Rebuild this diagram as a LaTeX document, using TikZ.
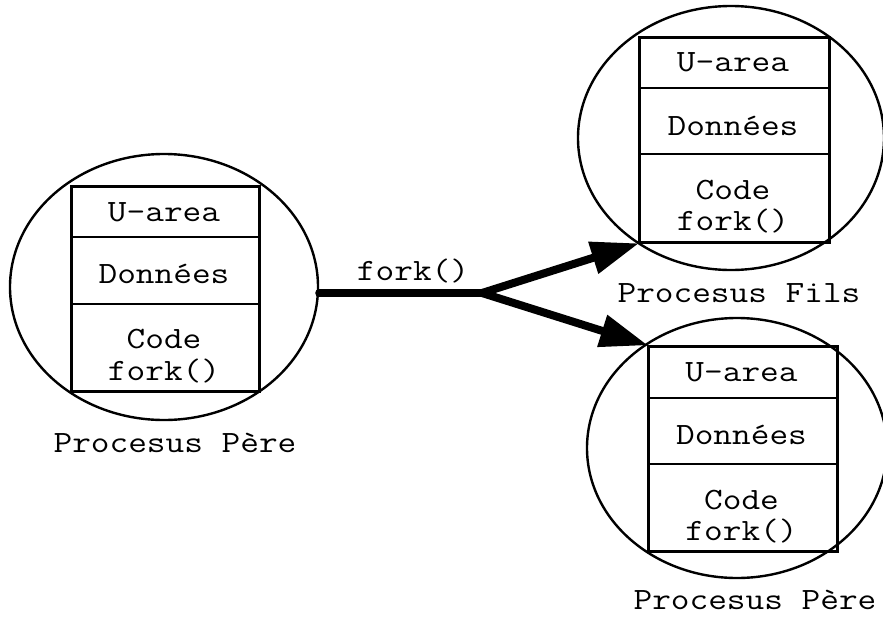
\documentclass[tikz,border=0pt]{standalone}
\usepackage{fontspec}
\usetikzlibrary{shapes.geometric,arrows.meta}

% typewriter text, set slightly wide
\newcommand\wide[1]{\scalebox{1.17}[1]{#1}}

\begin{document}
\begin{tikzpicture}[x=1pt,y=-1pt,
  proc/.style={draw,ellipse,line width=2.4pt,inner sep=0pt},
  mem/.style={draw,line width=2.6pt,inner sep=0pt,anchor=north west},
  sep/.style={line width=2.6pt},
  lbl/.style={font=\fontsize{31}{36}\selectfont\ttfamily,
    inner sep=0pt,anchor=base},
  thick link/.style={line width=8pt,line cap=round},
  forkarrow/.style={line width=8pt,line cap=round,
    -{Triangle[length=47pt,width=34pt,line width=0pt]}}]

\useasboundingbox (0,0) rectangle (883,616);

% parent process
\node[proc,minimum width=308pt,minimum height=266pt] (pere) at (164,287) {};
\node[mem,minimum width=188pt,minimum height=205pt] (pereBox) at (70,185) {};
\draw[sep] (70,237) -- (258,237);
\draw[sep] (70,304) -- (258,304);
\node[lbl] (pereU) at (164,221) {\wide{U-area}};
\node[lbl] (pereD) at (164,283) {\wide{Données}};
\node[lbl] (pereC) at (164,348) {\wide{Code}};
\node[lbl] (pereF) at (164,380) {\wide{fork()}};
\node[lbl] (pereName) at (175,452) {\wide{Procesus Père}};

% child process
\node[proc,minimum width=306pt,minimum height=264pt] (fils) at (731,138) {};
\node[mem,minimum width=190pt,minimum height=205pt] (filsBox) at (638,36) {};
\draw[sep] (638,88) -- (828,88);
\draw[sep] (638,154) -- (828,154);
\node[lbl] (filsU) at (733,71) {\wide{U-area}};
\node[lbl] (filsD) at (733,135) {\wide{Données}};
\node[lbl] (filsC) at (733,199) {\wide{Code}};
\node[lbl] (filsF) at (733,230) {\wide{fork()}};
\node[lbl] (filsName) at (739,302) {\wide{Procesus Fils}};

% parent process after fork
\node[proc,minimum width=300pt,minimum height=260pt] (pere2) at (737,448) {};
\node[mem,minimum width=189pt,minimum height=205pt] (pere2Box) at (647,345) {};
\draw[sep] (647,398) -- (836,398);
\draw[sep] (647,464) -- (836,464);
\node[lbl] (pere2U) at (741.5,381) {\wide{U-area}};
\node[lbl] (pere2D) at (741.5,444) {\wide{Données}};
\node[lbl] (pere2C) at (741.5,509) {\wide{Code}};
\node[lbl] (pere2F) at (741.5,540) {\wide{fork()}};
\node[lbl] (pere2Name) at (755,609) {\wide{Procesus Père}};

% the fork() call
\coordinate (split) at (482,293);
\node[lbl] (forkLbl) at (413,280) {\wide{fork()}};
\draw[thick link] (split -| pere.east) -- (split);
\draw[forkarrow] (split) -- (filsBox.south west);
\draw[forkarrow] (split) -- (pere2Box.north west);
\end{tikzpicture}
\end{document}
